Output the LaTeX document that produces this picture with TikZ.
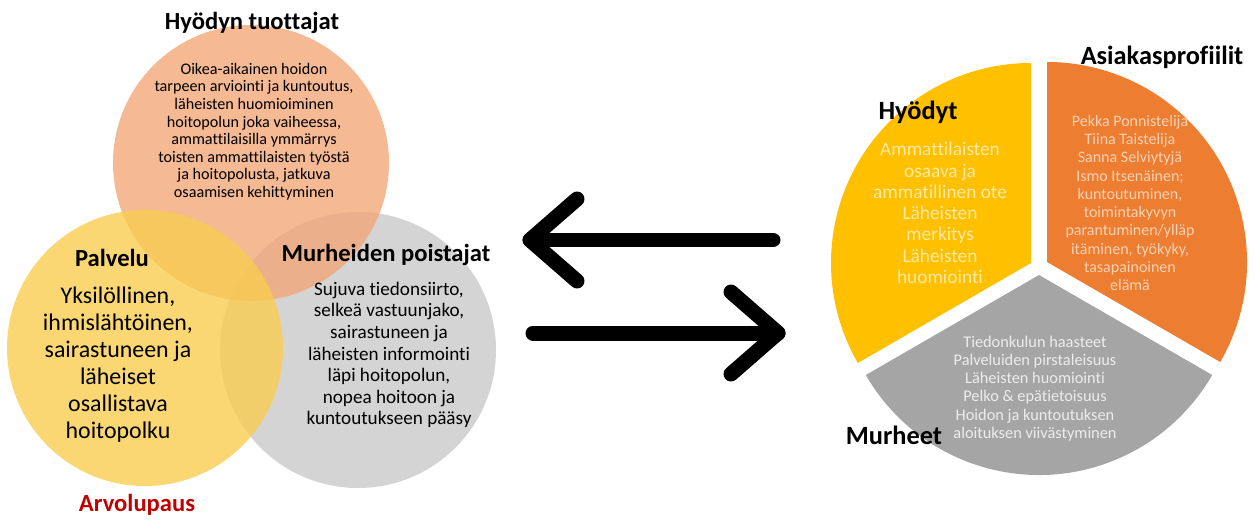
\documentclass[tikz,border=0pt]{standalone}
\usepackage{fontspec}
\setmainfont{Carlito}[Ligatures=CommonOff]
\usepackage{tikz}
\usetikzlibrary{positioning}
\definecolor{vpeach}{HTML}{F2A779}
\definecolor{vyellow}{HTML}{F9CD50}
\definecolor{vgray}{HTML}{C9C9C9}
\definecolor{vred}{HTML}{C00000}
\definecolor{pyellow}{HTML}{FFC000}
\definecolor{porange}{HTML}{ED7D31}
\definecolor{pgray}{HTML}{A5A5A5}
\definecolor{tyellow}{HTML}{FDE9A6}
\definecolor{torange}{HTML}{F9D2B4}
\definecolor{tgray}{HTML}{ECECEC}

\begin{document}
\begin{tikzpicture}[x=0.02cm, y=0.02cm,
  ttl/.style={font=\fontsize{14}{16}\selectfont\bfseries, inner sep=0pt},
  pttl/.style={font=\fontsize{15}{17}\selectfont\bfseries, inner sep=0pt},
  txt/.style={align=center, inner sep=0pt},
  arr/.style={line width=0.3cm, line cap=round, line join=round}]
  \useasboundingbox (0,0) rectangle (1256,-520);
  \fill[vgray, fill opacity=0.8] (358,-350) circle (138);
  \fill[vpeach, fill opacity=0.8] (251,-163) circle (138);
  \fill[vyellow, fill opacity=0.8] (145,-348) circle (138);

  \node[ttl] (hyt) at (252,-23) {Hyödyn tuottajat};
  \node[txt, font=\fontsize{9.2}{10}\selectfont] (hytb) at (254,-131.5)
      {Oikea-aikainen hoidon\\tarpeen arviointi ja kuntoutus,\\läheisten huomioiminen\\hoitopolun joka vaiheessa,\\ammattilaisilla ymmärrys\\toisten ammattilaisten työstä\\ja hoitopolusta, jatkuva\\osaamisen kehittyminen};
  \node[ttl] (pal) at (112,-258) {Palvelu};
  \node[txt, font=\fontsize{13.6}{15.4}\selectfont] (palb) at (118,-364.5)
      {Yksilöllinen,\\ihmislähtöinen,\\sairastuneen ja\\läheiset\\osallistava\\hoitopolku};
  \node[ttl] (mup) at (386,-255) {Murheiden poistajat};
  \node[txt, font=\fontsize{10.9}{12.3}\selectfont] (mupb) at (389,-355)
      {Sujuva tiedonsiirto,\\selkeä vastuunjako,\\sairastuneen ja\\läheisten informointi\\läpi hoitopolun,\\nopea hoitoon ja\\kuntoutukseen pääsy};
  \node[ttl, text=vred] (arv) at (137,-505) {Arvolupaus};

  \coordinate (la0) at (530,-240);
  \coordinate (la1) at (773,-240);
  \coordinate (laU) at (577,-199);
  \coordinate (laD) at (577,-281);
  \draw[arr] (la1) -- (la0);
  \draw[arr] (laU) -- (la0) -- (laD);
  \coordinate (ra0) at (533,-333);
  \coordinate (ra1) at (778,-333);
  \coordinate (raU) at (731,-292);
  \coordinate (raD) at (731,-374);
  \draw[arr] (ra0) -- (ra1);
  \draw[arr] (raU) -- (ra1) -- (raD);

  \fill[pyellow] (1031,-263) -- ++(90:200) arc (90:210:200) -- cycle;
  \fill[porange] (1047,-262) -- ++(-30:200) arc (-30:90:200) -- cycle;
  \fill[pgray] (1039,-275) -- ++(210:200) arc (210:330:200) -- cycle;

  \node[pttl] (hyo) at (918,-112) {Hyödyt};
  \node[txt, text=tyellow, font=\fontsize{11}{12.1}\selectfont] (hyob) at (940,-213)
      {Ammattilaisten\\osaava ja\\ammatillinen ote\\Läheisten\\merkitys\\Läheisten\\huomiointi};
  \node[pttl] (asp) at (1162,-57) {Asiakasprofiilit};
  \node[txt, text=torange, font=\fontsize{9.1}{10.4}\selectfont] (aspb) at (1130,-203)
      {Pekka Ponnistelija\\Tiina Taistelija\\Sanna Selviytyjä\\Ismo Itsenäinen;\\kuntoutuminen,\\toimintakyvyn\\parantuminen/ylläp\\itäminen, työkyky,\\tasapainoinen\\elämä};
  \node[txt, text=tgray, font=\fontsize{9.3}{10.4}\selectfont] (murb) at (1035,-388.5)
      {Tiedonkulun haasteet\\Palveluiden pirstaleisuus\\Läheisten huomiointi\\Pelko \& epätietoisuus\\Hoidon ja kuntoutuksen\\aloituksen viivästyminen};
  \node[pttl] (mur) at (894,-435) {Murheet};
\end{tikzpicture}
\end{document}
